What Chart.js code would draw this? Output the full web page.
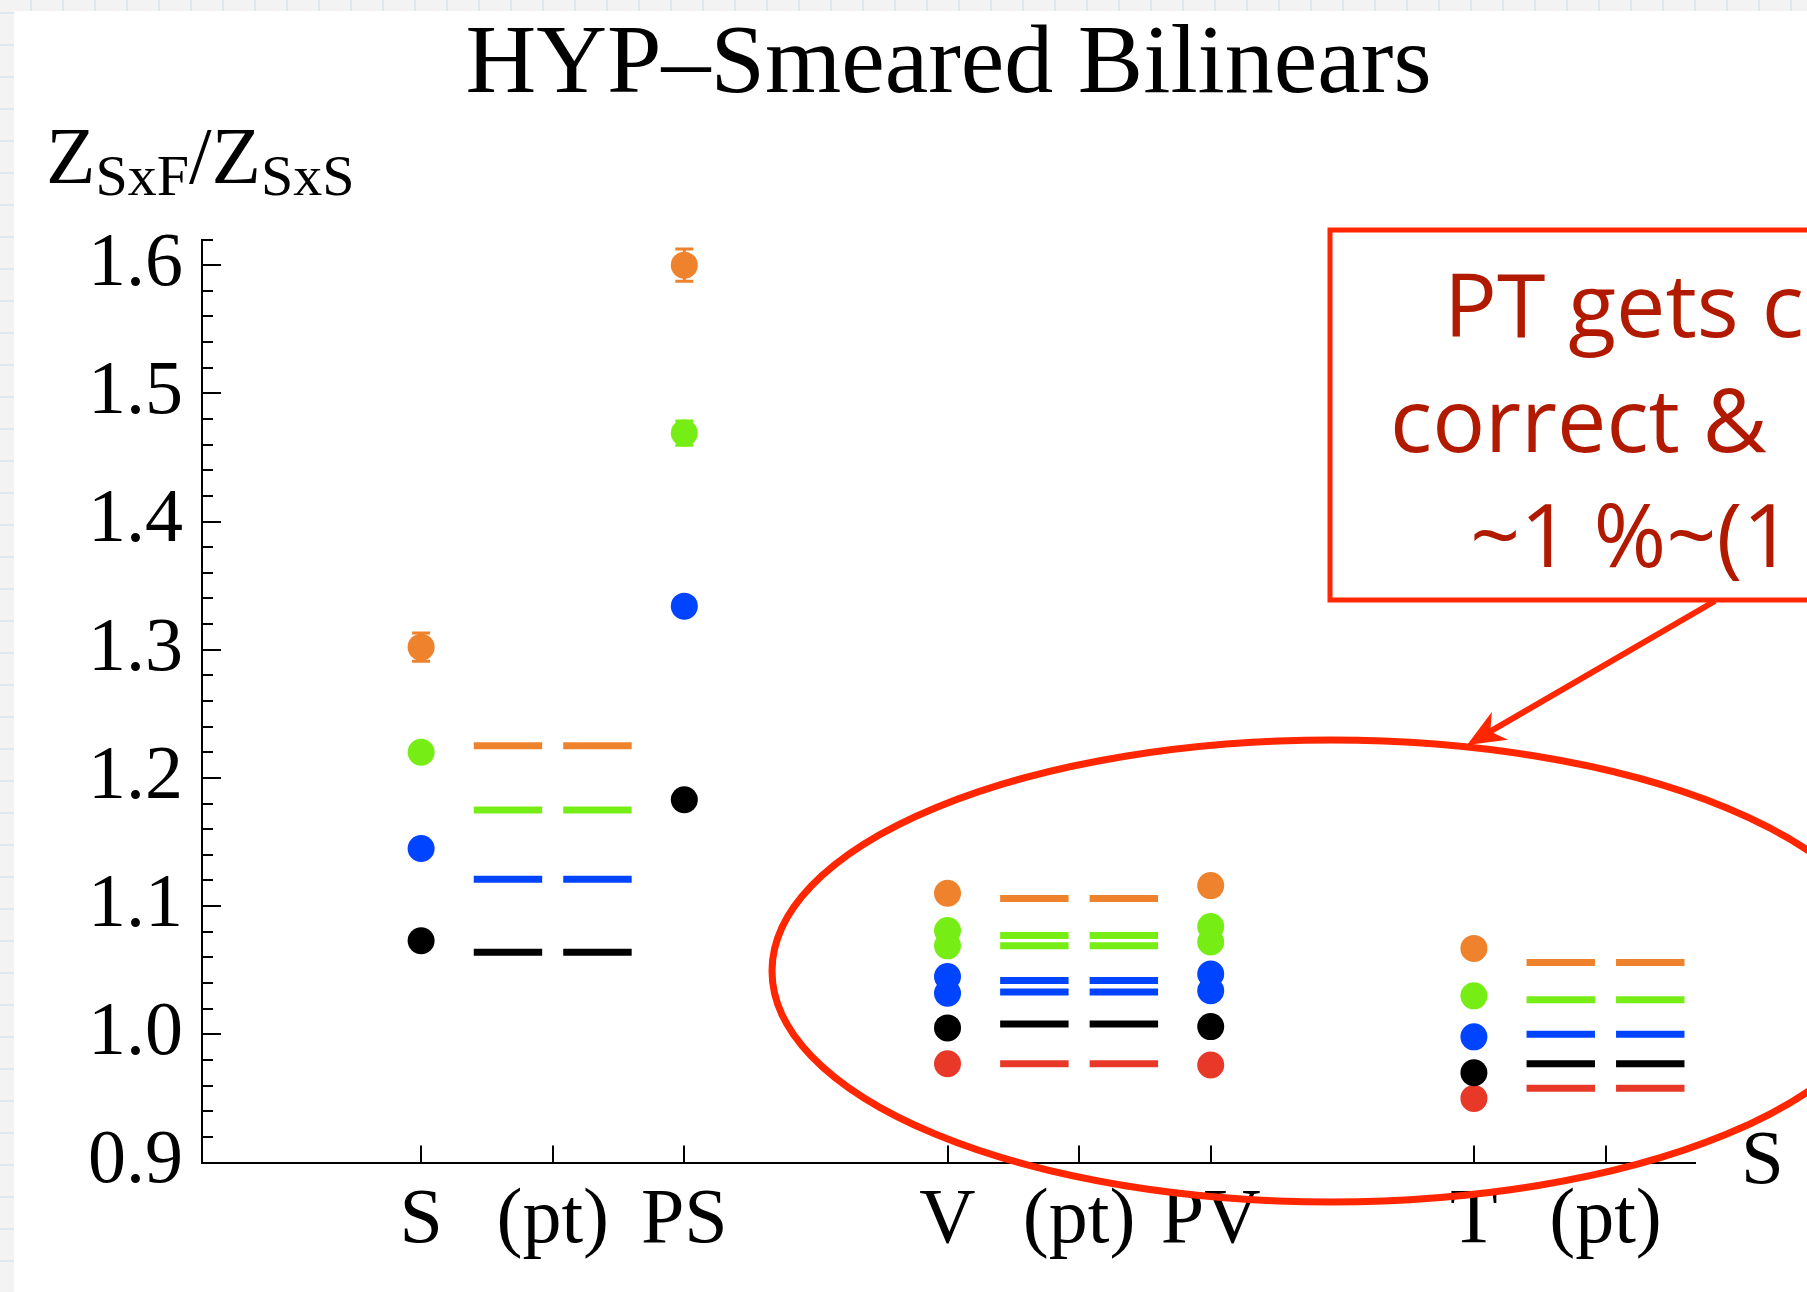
<!DOCTYPE html>
<html>
<head>
<meta charset="utf-8">
<script src="https://cdn.jsdelivr.net/npm/chart.js@4.4.1/dist/chart.umd.min.js"></script>
<style>
html, body { margin: 0; padding: 0; }
body {
    width: 1807px;
    height: 1292px;
    overflow: hidden;
    background-color: #f3f3f3;
    background-image:
        repeating-linear-gradient(90deg, transparent 0 30px, #dce9f0 30px 32px),
        repeating-linear-gradient(0deg, transparent 0 30px, #dce9f0 30px 32px);
}
#chart { position: absolute; left: 0; top: 0; }
</style>
</head>
<body>
<canvas id="chart" width="1807" height="1292"></canvas>
<script>
// axis ticks
const xTickPos = [1, 2, 3, 5, 6, 7, 9, 10];
const xTickLabels = ['S', '(pt)', 'PS', 'V', '(pt)', 'PV', 'T', '(pt)'];
const yTickValues = [0.9, 1.0, 1.1, 1.2, 1.3, 1.4, 1.5, 1.6];

// measured points at S, PS, V, PV, T
const pointX = [1, 3, 5, 7, 9];
const orangePts = [1.302, 1.600, 1.110, 1.116, 1.067];
const orangeErr = [0.011, 0.0125, 0, 0, 0];
const greenPts = [1.220, 1.469, 1.081, 1.084, 1.030];
const greenErr = [0, 0.0095, 0, 0, 0];
const greenPts2 = [null, null, 1.069, 1.072, null];
const bluePts = [1.145, 1.334, 1.045, 1.047, 0.998];
const bluePts2 = [null, null, 1.032, 1.034, null];
const blackPts = [1.073, 1.183, 1.005, 1.006, 0.970];
const redPts = [null, null, 0.977, 0.976, 0.950];

// perturbation theory (pt) values, drawn as dashes
const ptX = [2, 6, 10];
const orangePT = [1.225, 1.106, 1.056];
const greenPT = [1.175, 1.077, 1.027];
const greenPT2 = [null, 1.069, null];
const bluePT = [1.121, 1.042, 1.000];
const bluePT2 = [null, 1.033, null];
const blackPT = [1.064, 1.008, 0.977];
const redPT = [null, 0.977, 0.958];

const ORANGE = '#ee822d';
const GREEN = '#76ee16';
const BLUE = '#0044ff';
const BLACK = '#000000';
const RED = '#e83828';
const NOTE_RED = '#ff2600';
const NOTE_TEXT = '#b21a00';
const SERIF = '"Liberation Serif", "Times New Roman", serif';

function makePoints(vals) {
    return pointX.map((x, i) => ({ x: x, y: vals[i] })).filter(p => p.y !== null);
}

// two short dashes either side of the (pt) tick
function makeDashes(vals) {
    const out = [];
    ptX.forEach((x, i) => {
        const y = vals[i];
        if (y === null) return;
        out.push({ x: x - 0.6, y: y }, { x: x - 0.08, y: y }, { x: x, y: null },
                 { x: x + 0.08, y: y }, { x: x + 0.6, y: y }, { x: x + 0.7, y: null });
    });
    return out;
}

function pointSet(vals, color) {
    return {
        type: 'scatter',
        data: makePoints(vals),
        backgroundColor: color,
        borderWidth: 0,
        pointRadius: 13.5,
        pointHoverRadius: 13.5
    };
}

function dashSet(vals, color) {
    return {
        type: 'line',
        data: makeDashes(vals),
        borderColor: color,
        borderWidth: 7,
        borderCapStyle: 'butt',
        pointRadius: 0,
        spanGaps: false,
        tension: 0
    };
}

const errorBars = [
    { vals: orangePts, err: orangeErr, color: ORANGE },
    { vals: greenPts, err: greenErr, color: GREEN }
];

const backgroundPanel = {
    id: 'backgroundPanel',
    beforeDraw(chart) {
        const ctx = chart.ctx;
        ctx.save();
        ctx.fillStyle = '#ffffff';
        ctx.fillRect(14, 11, chart.width - 14, chart.height - 11);
        ctx.restore();
    }
};

const errorBarPlugin = {
    id: 'errorBars',
    afterDatasetsDraw(chart) {
        const ctx = chart.ctx;
        const xs = chart.scales.x, ys = chart.scales.y;
        ctx.save();
        ctx.lineWidth = 3;
        errorBars.forEach(s => {
            ctx.strokeStyle = s.color;
            s.vals.forEach((v, i) => {
                if (v === null || !s.err[i]) return;
                const px = xs.getPixelForValue(pointX[i]);
                const top = ys.getPixelForValue(v + s.err[i]);
                const bot = ys.getPixelForValue(v - s.err[i]);
                ctx.beginPath();
                ctx.moveTo(px, top); ctx.lineTo(px, bot);
                ctx.moveTo(px - 9, top); ctx.lineTo(px + 9, top);
                ctx.moveTo(px - 9, bot); ctx.lineTo(px + 9, bot);
                ctx.stroke();
            });
        });
        ctx.restore();
    }
};

// inward tick marks, y-axis label, and the red annotation
const decorations = {
    id: 'decorations',
    afterDraw(chart) {
        const ctx = chart.ctx;
        const xs = chart.scales.x, ys = chart.scales.y;
        const area = chart.chartArea;
        ctx.save();

        ctx.strokeStyle = '#000';
        ctx.lineWidth = 2;
        ctx.beginPath();
        for (let k = 0; k <= 36; k++) {
            const v = 0.9 + k * 0.02;
            const py = Math.round(ys.getPixelForValue(v));
            const len = (k % 5 === 0) ? 19 : 11;
            ctx.moveTo(area.left, py);
            ctx.lineTo(area.left + len, py);
        }
        xTickPos.forEach(v => {
            const px = Math.round(xs.getPixelForValue(v));
            ctx.moveTo(px, area.bottom);
            ctx.lineTo(px, area.bottom - 17);
        });
        ctx.stroke();

        // y label  Z_SxF / Z_SxS
        ctx.fillStyle = '#000';
        ctx.textBaseline = 'alphabetic';
        ctx.textAlign = 'left';
        let x = 46;
        const big = '81px ' + SERIF, small = '58px ' + SERIF;
        const parts = [['Z', big, 183], ['SxF', small, 195], ['/', big, 183], ['Z', big, 183], ['SxS', small, 195]];
        parts.forEach(p => {
            ctx.font = p[1];
            ctx.fillText(p[0], x, p[2]);
            x += ctx.measureText(p[0]).width;
        });

        // stray axis letter at the right edge
        ctx.font = '77px ' + SERIF;
        ctx.fillText('S', 1741, 1183);

        // annotation box
        ctx.fillStyle = '#fff';
        ctx.fillRect(1330, 230, 600, 370);
        ctx.strokeStyle = NOTE_RED;
        ctx.lineWidth = 5;
        ctx.strokeRect(1330, 230, 600, 370);
        ctx.fillStyle = NOTE_TEXT;
        ctx.font = '88px "Open Sans", sans-serif';
        ctx.fillText('PT gets c', 1444, 337);
        ctx.fillText('correct & ', 1390, 452);
        ctx.fillText('~1 %~(1', 1470, 567);

        // arrow
        const x0 = 1715, y0 = 601, x1 = 1467, y1 = 745;
        const dx = x1 - x0, dy = y1 - y0, L = Math.hypot(dx, dy);
        const ux = dx / L, uy = dy / L;
        ctx.strokeStyle = NOTE_RED;
        ctx.fillStyle = NOTE_RED;
        ctx.lineWidth = 6;
        ctx.beginPath();
        ctx.moveTo(x0, y0);
        ctx.lineTo(x1 - ux * 26, y1 - uy * 26);
        ctx.stroke();
        ctx.beginPath();
        ctx.moveTo(x1, y1);
        ctx.lineTo(x1 - ux * 38 - uy * 16, y1 - uy * 38 + ux * 16);
        ctx.lineTo(x1 - ux * 27, y1 - uy * 27);
        ctx.lineTo(x1 - ux * 38 + uy * 16, y1 - uy * 38 - ux * 16);
        ctx.closePath();
        ctx.fill();

        // ellipse
        ctx.lineWidth = 7;
        ctx.beginPath();
        ctx.ellipse(1331, 971, 559, 231, 0, 0, Math.PI * 2);
        ctx.stroke();

        ctx.restore();
    }
};

new Chart(document.getElementById('chart'), {
    type: 'scatter',
    data: {
        datasets: [
            dashSet(orangePT, ORANGE),
            dashSet(greenPT, GREEN),
            dashSet(greenPT2, GREEN),
            dashSet(bluePT, BLUE),
            dashSet(bluePT2, BLUE),
            dashSet(blackPT, BLACK),
            dashSet(redPT, RED),
            pointSet(orangePts, ORANGE),
            pointSet(greenPts, GREEN),
            pointSet(greenPts2, GREEN),
            pointSet(bluePts, BLUE),
            pointSet(bluePts2, BLUE),
            pointSet(blackPts, BLACK),
            pointSet(redPts, RED)
        ]
    },
    options: {
        responsive: false,
        animation: false,
        events: [],
        clip: false,
        layout: { padding: { left: 0, right: 112, top: 0, bottom: 0 } },
        scales: {
            x: {
                type: 'linear',
                min: -0.665,
                max: 10.68,
                grid: { display: false, drawTicks: false },
                border: { display: true, color: '#000', width: 2 },
                afterBuildTicks: (scale) => {
                    scale.ticks = xTickPos.map(v => ({ value: v }));
                },
                afterFit: (scale) => { scale.height = 129.5; },
                ticks: {
                    autoSkip: false,
                    maxRotation: 0,
                    padding: 12,
                    color: '#000',
                    font: { family: SERIF, size: 78 },
                    callback: (val, i) => xTickLabels[i]
                }
            },
            y: {
                type: 'linear',
                min: 0.9,
                max: 1.62,
                grid: { display: false, drawTicks: false },
                border: { display: true, color: '#000', width: 2 },
                afterBuildTicks: (scale) => {
                    scale.ticks = yTickValues.map(v => ({ value: v }));
                },
                afterFit: (scale) => { scale.width = 202; },
                ticks: {
                    padding: 19,
                    color: '#000',
                    font: { family: SERIF, size: 76 },
                    callback: (val) => Number(val).toFixed(1)
                }
            }
        },
        plugins: {
            legend: { display: false },
            tooltip: { enabled: false },
            title: {
                display: true,
                fullSize: false,
                text: 'HYP\u2013Smeared Bilinears',
                color: '#000',
                font: { family: SERIF, size: 98, weight: 'normal', lineHeight: 1 },
                padding: { top: 17, bottom: 124.5 }
            }
        }
    },
    plugins: [backgroundPanel, errorBarPlugin, decorations]
});
</script>
</body>
</html>
